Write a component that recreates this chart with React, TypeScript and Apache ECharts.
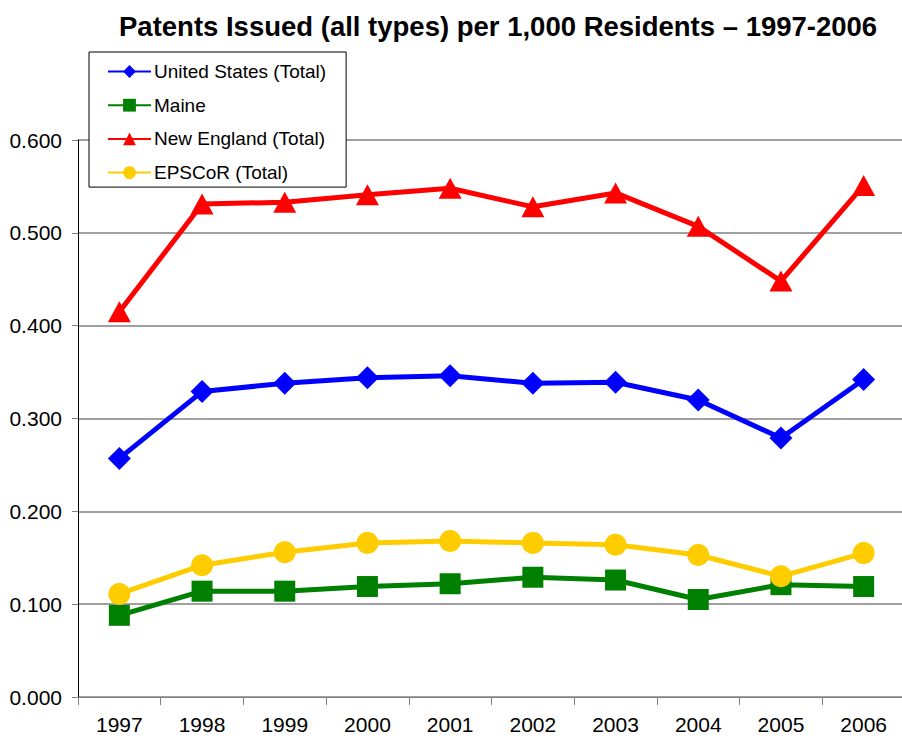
import React, { useEffect, useRef } from "react";
import * as echarts from "echarts";

const years = ["1997", "1998", "1999", "2000", "2001", "2002", "2003", "2004", "2005", "2006"];
const unitedStates = [0.257, 0.329, 0.338, 0.344, 0.346, 0.338, 0.339, 0.320, 0.279, 0.342];
const maine = [0.088, 0.114, 0.114, 0.119, 0.122, 0.129, 0.126, 0.105, 0.121, 0.119];
const newEngland = [0.415, 0.531, 0.533, 0.541, 0.548, 0.528, 0.543, 0.507, 0.448, 0.551];
const epscor = [0.111, 0.142, 0.156, 0.166, 0.168, 0.166, 0.164, 0.153, 0.130, 0.155];

const seriesNames = ["United States (Total)", "Maine", "New England (Total)", "EPSCoR (Total)"];
const titleText = "Patents Issued (all types) per 1,000 Residents \u2013 1997-2006";

export default function App() {
  const ref = useRef<HTMLDivElement>(null);
  useEffect(() => {
    if (!ref.current) return;
    const chart = echarts.init(ref.current, null, { renderer: "svg" });
    const font = "Arial, 'Liberation Sans', sans-serif";
    const mk = (name: string, data: number[], color: string, symbol: string, size: any) => ({
      name,
      type: "line",
      data,
      symbol,
      symbolSize: size,
      showAllSymbol: true,
      lineStyle: { color, width: 5 },
      itemStyle: { color },
      z: 3,
    });
    chart.setOption({
      animation: false,
      backgroundColor: "#ffffff",
      textStyle: { fontFamily: font },
      title: {
        text: titleText,
        left: 114,
        top: 7,
        textStyle: { fontSize: 27.5, fontWeight: "bold", color: "#000", fontFamily: font },
      },
      legend: {
        orient: "vertical",
        left: 89,
        top: 52,
        padding: [10, 20, 5, 18],
        itemWidth: 43,
        itemHeight: 16,
        itemGap: 14.7,
        backgroundColor: "#ffffff",
        borderColor: "#000000",
        borderWidth: 1,
        borderRadius: 0,
        z: 10,
        data: seriesNames,
        textStyle: { fontSize: 19, color: "#000", fontFamily: font, padding: [0, 0, 0, -2] },
      },
      grid: { left: 78, right: 0, top: 140, bottom: 43, containLabel: false },
      xAxis: {
        type: "category",
        data: years,
        boundaryGap: true,
        axisLine: { lineStyle: { color: "#808080", width: 1 } },
        axisTick: { show: true, length: 8, lineStyle: { color: "#808080" } },
        axisLabel: { fontSize: 21, color: "#000", margin: 17, fontFamily: font },
        splitLine: { show: false },
      },
      yAxis: {
        type: "value",
        min: 0,
        max: 0.6,
        interval: 0.1,
        axisLine: { show: true, lineStyle: { color: "#000000", width: 1 } },
        axisTick: { show: true, length: 6, lineStyle: { color: "#808080" } },
        axisLabel: {
          fontSize: 21,
          color: "#000",
          margin: 16,
          fontFamily: font,
          formatter: (v: number) => v.toFixed(3),
        },
        splitLine: { show: true, lineStyle: { color: "#808080", width: 1.5 } },
      },
      series: [
        mk(seriesNames[0], unitedStates, "#0000FF", "diamond", 23),
        mk(seriesNames[1], maine, "#008000", "rect", 21),
        mk(seriesNames[2], newEngland, "#FF0000", "triangle", [23, 21]),
        mk(seriesNames[3], epscor, "#FFCC00", "circle", 22),
      ],
    });
    return () => chart.dispose();
  }, []);
  return (
    <div
      ref={ref}
      style={{ position: "fixed", left: 0, top: 0, width: 905, height: 740, background: "#fff" }}
    />
  );
}
